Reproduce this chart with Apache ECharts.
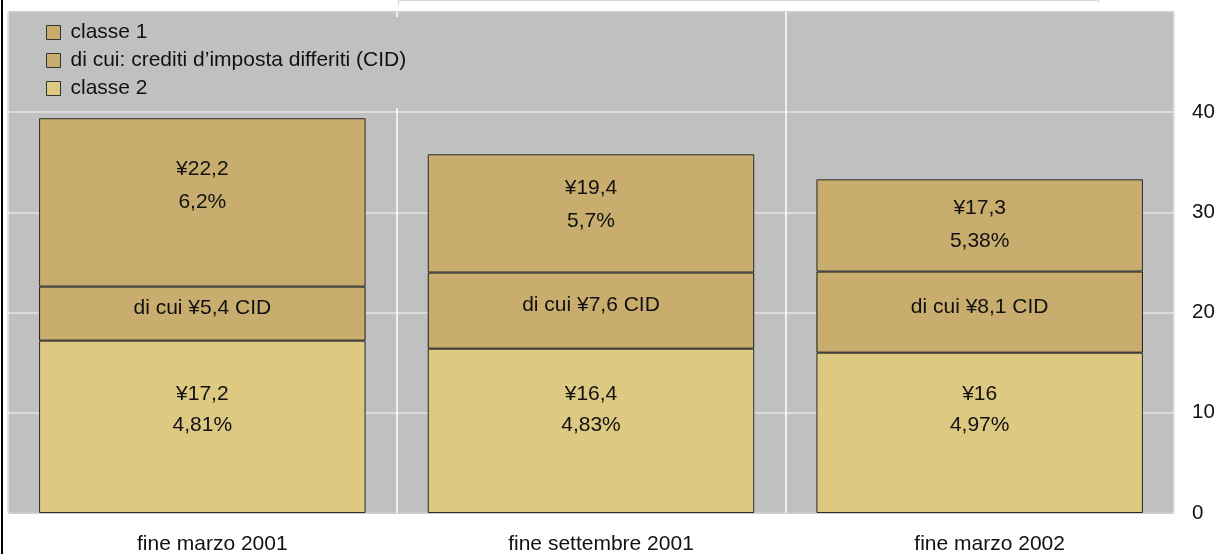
<!DOCTYPE html>
<html>
<head>
<meta charset="utf-8">
<style>
  html, body { margin: 0; padding: 0; background: #ffffff; }
  #chart { width: 1215px; height: 554px; }
</style>
<script src="https://cdn.jsdelivr.net/npm/echarts@6/dist/echarts.min.js"></script>
</head>
<body>
<div id="chart"></div>
<script>
// Periods on the horizontal axis
const categories = ['fine marzo 2001', 'fine settembre 2001', 'fine marzo 2002'];
// Amounts (¥ trillion): classe 1 total, of which deferred tax credits, and classe 2
const classe1 = [22.2, 19.4, 17.3];
const cid = [5.4, 7.6, 8.1];
const classe2 = [17.2, 16.4, 16];
// Ratios printed under each amount
const classe1Pct = ['6,2%', '5,7%', '5,38%'];
const classe2Pct = ['4,81%', '4,83%', '4,97%'];
// Right-hand scale
const yTicks = [0, 10, 20, 30, 40];
const seriesNames = ['classe 1', 'di cui: crediti d\u2019imposta differiti (CID)', 'classe 2'];

// Vertical placement (px from the segment top) of the classe 1 label in each bar
const upperLabelOffset = [67, 50, 45];

const FONT = '"Liberation Sans", Arial, Helvetica, sans-serif';
const TAN = '#c8ad6e';
const SAND = '#dec983';
const fmt = v => String(v).replace('.', ',');

const chart = echarts.init(document.getElementById('chart'), null, { renderer: 'canvas' });

const barBase = {
  type: 'bar',
  stack: 'tot',
  barWidth: '84%',
  animation: false
};

chart.setOption({
  backgroundColor: '#ffffff',
  textStyle: { fontFamily: FONT },
  grid: {
    left: 8, right: 41, top: 12, bottom: 41,
    show: true,
    backgroundColor: '#c0c0c0',
    borderColor: '#333333',
    borderWidth: 1,
    containLabel: false,
    outerBoundsMode: 'none'
  },
  legend: {
    orient: 'vertical',
    left: 36,
    top: 17,
    padding: [5, 10, 9, 10],
    backgroundColor: '#c0c0c0',
    itemWidth: 14,
    itemHeight: 14,
    itemGap: 7,
    icon: 'rect',
    data: seriesNames,
    itemStyle: { borderColor: '#333333', borderWidth: 1 },
    textStyle: { fontFamily: FONT, fontSize: 21, lineHeight: 21, color: '#111111', padding: [0, 0, 0, 5] }
  },
  xAxis: {
    type: 'category',
    data: categories,
    boundaryGap: true,
    axisLine: { show: false },
    axisTick: { show: false },
    axisLabel: {
      color: '#111111', fontFamily: FONT, fontSize: 21, margin: 21,
      padding: [0, 0, 0, 20]
    },
    splitLine: { show: true, interval: 0, lineStyle: { color: '#ffffff', width: 1.5 } }
  },
  yAxis: {
    type: 'value',
    position: 'right',
    min: 0, max: 50, interval: 10,
    axisLine: { show: false },
    axisTick: { show: false },
    axisLabel: {
      color: '#111111', fontFamily: FONT, fontSize: 20.5, margin: 18,
      formatter: v => (yTicks.indexOf(v) >= 0 ? String(v) : '')
    },
    splitLine: { show: true, lineStyle: { color: '#e4e4e4', width: 1.5 } }
  },
  graphic: [
    { type: 'rect', shape: { x: 1, y: 0, width: 2, height: 554 }, style: { fill: '#000000' }, z: 100 },
    {
      type: 'polyline',
      shape: { points: [[398.5, 5], [398.5, 0.5], [1098.5, 0.5], [1098.5, 3]] },
      style: { stroke: '#d6d6d6', lineWidth: 1, fill: null },
      z: 100
    }
  ],
  series: [
    Object.assign({}, barBase, {
      name: seriesNames[2],
      data: classe2,
      itemStyle: { color: SAND, borderColor: '#2a2a2a', borderWidth: 1 },
      label: {
        show: true,
        position: 'insideBottom',
        distance: 72,
        fontFamily: FONT, fontSize: 21, lineHeight: 31, color: '#111111', align: 'center',
        formatter: p => '\u00a5' + fmt(classe2[p.dataIndex]) + '\n' + classe2Pct[p.dataIndex]
      }
    }),
    Object.assign({}, barBase, {
      name: seriesNames[1],
      data: cid,
      itemStyle: { color: TAN, borderColor: '#1a1a1a', borderWidth: 1 },
      label: {
        show: true,
        position: 'inside',
        offset: [0, -5],
        fontFamily: FONT, fontSize: 21, color: '#111111',
        formatter: p => 'di cui \u00a5' + fmt(cid[p.dataIndex]) + ' CID'
      }
    }),
    Object.assign({}, barBase, {
      name: seriesNames[0],
      data: classe1.map((v, i) => ({
        value: v - cid[i],
        label: { position: ['50%', upperLabelOffset[i]] }
      })),
      itemStyle: { color: TAN, borderColor: '#2a2a2a', borderWidth: 1 },
      label: {
        show: true,
        align: 'center',
        verticalAlign: 'middle',
        fontFamily: FONT, fontSize: 21, lineHeight: 33, color: '#111111',
        formatter: p => '\u00a5' + fmt(classe1[p.dataIndex]) + '\n' + classe1Pct[p.dataIndex]
      }
    })
  ]
});
</script>
</body>
</html>
